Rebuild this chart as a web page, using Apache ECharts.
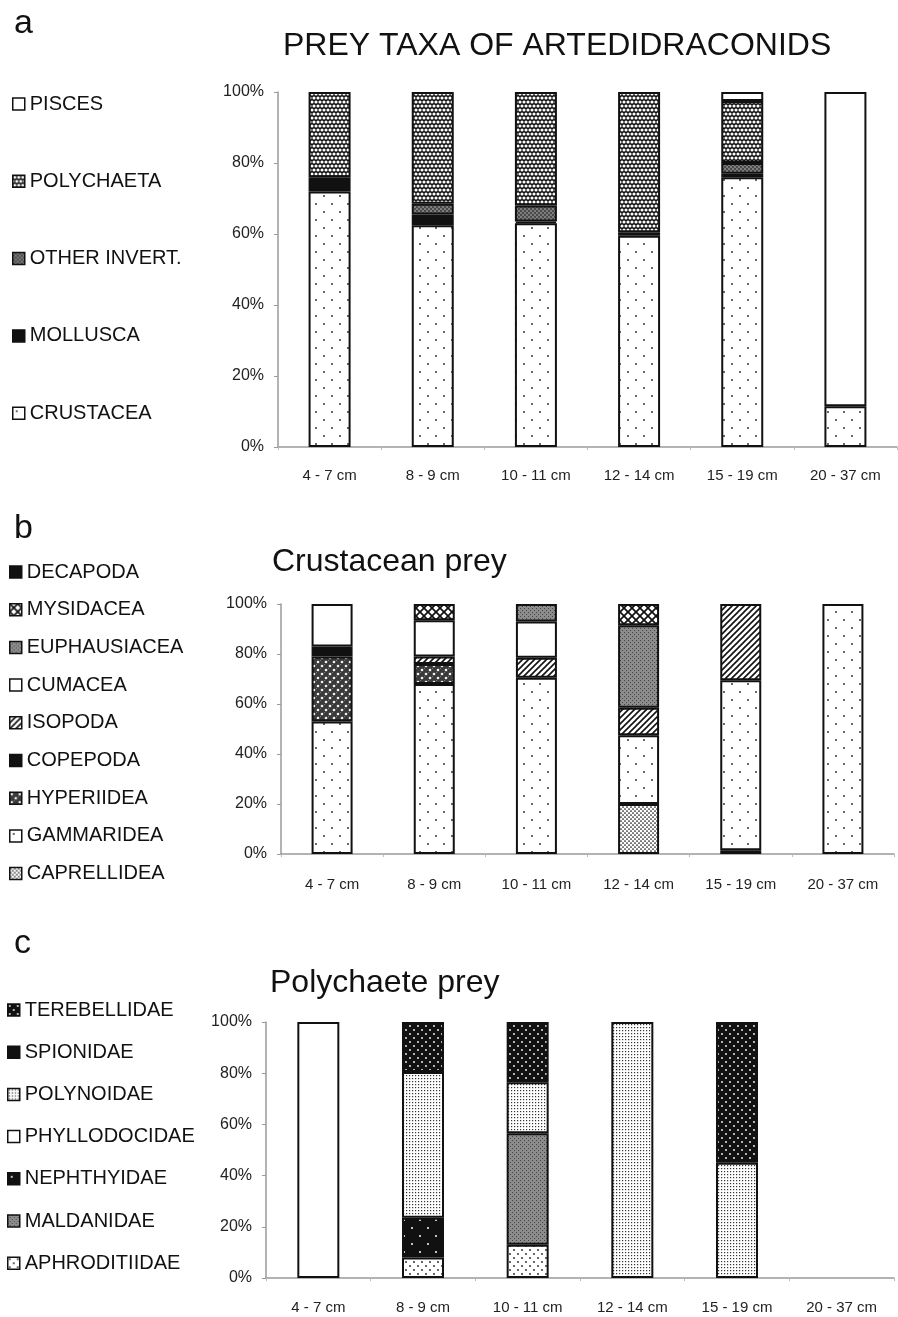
<!DOCTYPE html>
<html>
<head>
<meta charset="utf-8">
<title>Prey of artedidraconids</title>
<script src="https://cdn.jsdelivr.net/npm/echarts@6/dist/echarts.min.js"></script>
<style>
  html, body { margin: 0; padding: 0; background: #fff; }
  #chart { width: 898px; height: 1317px; }
</style>
</head>
<body>
<div id="chart"></div>
<script>
// Fish size classes (total length) shared by the three panels
const sizeClasses = ['4 - 7 cm', '8 - 9 cm', '10 - 11 cm', '12 - 14 cm', '15 - 19 cm', '20 - 37 cm'];
const percentTicks = [0, 20, 40, 60, 80, 100];

// a: prey taxa, % of diet per size class (stacked bottom to top)
const crustacea   = [72, 62.5, 63, 59.5, 76, 11.5];
const mollusca    = [4, 3, 0.5, 1, 1, 0];
const otherInvert = [0, 3, 4.5, 0, 3, 0];
const polychaeta  = [24, 31.5, 32, 39.5, 17.5, 0];
const pisces      = [0, 0, 0, 0, 2.5, 88.5];

// b: crustacean prey
const caprellidea  = [0, 0, 0, 20, 1.5, 0];
const gammaridea   = [53, 68, 70.5, 27.5, 68, 100];
const hyperiidea   = [26, 8, 0, 0, 0, 0];
const copepoda     = [4, 0, 0, 0, 0, 0];
const isopoda      = [0, 3, 8, 11, 30.5, 0];
const cumacea      = [17, 14.5, 14.5, 0, 0, 0];
const euphausiacea = [0, 0, 7, 33, 0, 0];
const mysidacea    = [0, 6.5, 0, 8.5, 0, 0];
const decapoda     = [0, 0, 0, 0, 0, 0];

// c: polychaete prey
const aphroditiidae = [0, 8, 13, 0, 0, 0];
const maldanidae    = [0, 0, 43.5, 0, 0, 0];
const nephthyidae   = [0, 15.5, 0, 0, 0, 0];
const phyllodocidae = [100, 0, 0, 0, 0, 0];
const polynoidae    = [0, 57, 20, 100, 45, 0];
const spionidae     = [0, 0, 0, 0, 0, 0];
const terebellidae  = [0, 19.5, 23.5, 0, 55, 0];

// ---- fill patterns (monochrome print style) ----
function tile(w, h, bg, paint) {
  const c = document.createElement('canvas');
  c.width = w; c.height = h;
  const g = c.getContext('2d');
  g.fillStyle = bg; g.fillRect(0, 0, w, h);
  if (paint) paint(g);
  return { image: c, repeat: 'repeat' };
}
function dots(g, pts, r, col) {
  g.fillStyle = col;
  pts.forEach(([x, y]) => { g.beginPath(); g.arc(x, y, r, 0, Math.PI * 2); g.fill(); });
}
function diag(g, s, lw, both) {
  g.strokeStyle = '#111'; g.lineWidth = lw;
  const seg = (x1, y1, x2, y2) => { g.beginPath(); g.moveTo(x1, y1); g.lineTo(x2, y2); g.stroke(); };
  seg(-1, s + 1, s + 1, -1); seg(-1, 1, 1, -1); seg(s - 1, s + 1, s + 1, s - 1);
  if (both) { seg(-1, -1, s + 1, s + 1); seg(s - 1, -1, s + 1, 1); seg(-1, s - 1, 1, s + 1); }
}
const P = {
  white: '#ffffff',
  black: '#111111',
  sparseDots: tile(16, 16, '#fff', g => dots(g, [[4, 4], [12, 12]], 0.9, '#222')),
  checker: tile(8, 8, '#111', g => dots(g, [[2, 2], [6, 2], [0, 6], [4, 6], [8, 6]], 1.55, '#fff')),
  darkGrain: tile(4, 4, '#4a4a4a', g => dots(g, [[1, 1], [3, 3]], 0.7, '#d8d8d8')),
  greyGrain: tile(4, 4, '#8c8c8c', g => { g.fillStyle = '#444'; g.fillRect(0, 0, 1, 1); g.fillRect(2, 2, 1, 1); }),
  hyper: tile(8, 8, '#3a3a3a', g => { g.fillStyle = '#777'; g.fillRect(0, 4, 1, 1); g.fillRect(4, 0, 1, 1); dots(g, [[2, 2], [6, 6]], 1.3, '#f2f2f2'); }),
  hatch: tile(6, 6, '#fff', g => diag(g, 6, 1.6, false)),
  cross: tile(8, 8, '#fff', g => diag(g, 8, 1.7, true)),
  denseBlackDots: tile(4, 4, '#fff', g => dots(g, [[1, 1], [3, 3]], 0.85, '#111')),
  fineDots: tile(3, 3, '#fff', g => { g.fillStyle = '#333'; g.fillRect(1, 1, 1.2, 1.2); }),
  blackFineWhite: tile(8, 8, '#111', g => dots(g, [[2, 2], [6, 6]], 0.9, '#fff')),
  blackSparseWhite: tile(16, 16, '#111', g => dots(g, [[4, 4], [12, 12]], 1.0, '#fff')),
  mediumDots: tile(8, 8, '#fff', g => dots(g, [[2, 2], [6, 6]], 0.9, '#222'))
};

const FONT = "'Liberation Sans', Arial, Helvetica, sans-serif";

function bars(name, values, idx, fill, width) {
  return {
    type: 'bar', name,
    xAxisIndex: idx, yAxisIndex: idx, stack: 'panel' + idx,
    barWidth: width,
    data: values.map(v => (v === 0 ? null : v)),
    itemStyle: { color: fill, borderColor: '#111', borderWidth: 2 },
    emphasis: { disabled: true },
    silent: true
  };
}

// stacking order is bottom to top; legends list top to bottom
const panelA = [
  ['CRUSTACEA', crustacea, P.sparseDots],
  ['MOLLUSCA', mollusca, P.black],
  ['OTHER INVERT.', otherInvert, P.darkGrain],
  ['POLYCHAETA', polychaeta, P.checker],
  ['PISCES', pisces, P.white]
];
const panelB = [
  ['CAPRELLIDEA', caprellidea, P.denseBlackDots],
  ['GAMMARIDEA', gammaridea, P.sparseDots],
  ['HYPERIIDEA', hyperiidea, P.hyper],
  ['COPEPODA', copepoda, P.black],
  ['ISOPODA', isopoda, P.hatch],
  ['CUMACEA', cumacea, P.white],
  ['EUPHAUSIACEA', euphausiacea, P.greyGrain],
  ['MYSIDACEA', mysidacea, P.cross],
  ['DECAPODA', decapoda, P.black]
];
const panelC = [
  ['APHRODITIIDAE', aphroditiidae, P.mediumDots],
  ['MALDANIDAE', maldanidae, P.greyGrain],
  ['NEPHTHYIDAE', nephthyidae, P.blackSparseWhite],
  ['PHYLLODOCIDAE', phyllodocidae, P.white],
  ['POLYNOIDAE', polynoidae, P.fineDots],
  ['SPIONIDAE', spionidae, P.black],
  ['TEREBELLIDAE', terebellidae, P.blackFineWhite]
];

const panels = [
  { rows: panelA, grid: { left: 278, right: 1, top: 92, height: 355 }, barWidth: 42, labelMargin: 21,
    legendTop: 94, legendGap: 57.3, legendLeft: 12 },
  { rows: panelB, grid: { left: 281, right: 4, top: 604, height: 250 }, barWidth: 41, labelMargin: 23,
    legendTop: 562, legendGap: 17.7, legendLeft: 9 },
  { rows: panelC, grid: { left: 266, right: 4, top: 1022, height: 256 }, barWidth: 42, labelMargin: 22,
    legendTop: 1000, legendGap: 22.2, legendLeft: 7 }
];

const series = [];
const legends = [];
panels.forEach((p, i) => {
  p.rows.forEach(([name, vals, fill]) => series.push(bars(name, vals, i, fill, p.barWidth)));
  legends.push({
    orient: 'vertical', left: p.legendLeft, top: p.legendTop, padding: 0,
    itemWidth: 12, itemHeight: 12, itemGap: p.legendGap,
    selectedMode: false,
    data: p.rows.map(r => r[0]).reverse(),
    itemStyle: { borderColor: '#111', borderWidth: 1.5 },
    textStyle: { fontFamily: FONT, fontSize: 20, lineHeight: 18, color: '#111' },
    icon: 'rect'
  });
});

const titleText = (x, y, text, size) => ({
  type: 'text', x, y,
  style: { text, fontFamily: FONT, fontSize: size, fill: '#111', align: 'left', verticalAlign: 'middle', textAlign: 'left', textVerticalAlign: 'middle' }
});

const option = {
  backgroundColor: '#fff',
  animation: false,
  grid: panels.map(p => p.grid),
  xAxis: panels.map((p, i) => ({
    type: 'category', gridIndex: i, data: sizeClasses,
    axisLine: { lineStyle: { color: '#9a9a9a', width: 1.5 } },
    axisTick: { show: true, length: 3, lineStyle: { color: '#bbb' } },
    axisLabel: { fontFamily: FONT, fontSize: 15, color: '#222', margin: p.labelMargin }
  })),
  yAxis: panels.map((p, i) => ({
    type: 'value', gridIndex: i, min: percentTicks[0], max: percentTicks[percentTicks.length - 1],
    interval: percentTicks[1] - percentTicks[0],
    axisLine: { show: true, lineStyle: { color: '#9a9a9a', width: 1.5 } },
    axisTick: { show: true, length: 4, lineStyle: { color: '#9a9a9a' } },
    splitLine: { show: false },
    axisLabel: { fontFamily: FONT, fontSize: 16, color: '#222', margin: 14, formatter: '{value}%' }
  })),
  legend: legends,
  series: series,
  graphic: [
    titleText(14, 24, 'a', 34),
    titleText(283, 46, 'PREY TAXA OF ARTEDIDRACONIDS', 32),
    titleText(14, 529, 'b', 34),
    titleText(272, 562, 'Crustacean prey', 32),
    titleText(14, 944, 'c', 34),
    titleText(270, 983, 'Polychaete prey', 32)
  ]
};

const chart = echarts.init(document.getElementById('chart'), null, { renderer: 'canvas' });
chart.setOption(option);
</script>
</body>
</html>
